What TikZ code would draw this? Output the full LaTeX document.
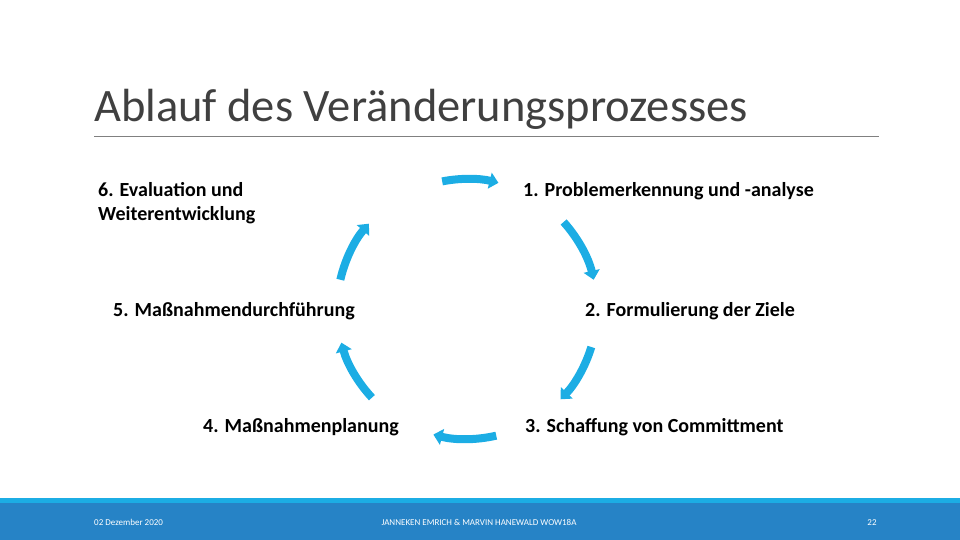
\documentclass[tikz,border=0pt]{standalone}
\usepackage{fontspec}
\setmainfont{Carlito}
\usetikzlibrary{arrows.meta}
\definecolor{cyclecol}{HTML}{1CADE4}
\definecolor{footcol}{HTML}{2683C6}
\definecolor{titlecol}{HTML}{404040}
\begin{document}
\begin{tikzpicture}[x=1pt,y=1pt,
    phase/.style={font=\fontsize{20}{24}\selectfont\bfseries, inner sep=0pt, align=left},
    foot/.style={font=\fontsize{9}{10}\selectfont, text=white, inner sep=0pt},
    cyclearrow/.style={cyclecol, line width=8pt, -{Triangle[width=16pt,length=9pt]}}]
            \def\R{130}
            \useasboundingbox (0,0) rectangle (960,540);
            
            \node[anchor=base west, inner sep=0pt, text=titlecol, font=\fontsize{46.5}{50}\selectfont] (title) at (94,418) {Ablauf des Veränderungsprozesses};
            \draw[gray, line width=0.8pt] (94,404) -- (879,404);
            
            \node[phase, anchor=base west] (p1) at (523,343) {1. Problemerkennung und -analyse};
            \node[phase, anchor=base west] (p2) at (585,223) {2. Formulierung der Ziele};
            \node[phase, anchor=base west] (p3) at (525,107) {3. Schaffung von Committment};
            \node[phase, anchor=base west] (p4) at (203,107) {4. Maßnahmenplanung};
            \node[phase, anchor=base west] (p5) at (113,223) {5. Maßnahmendurchführung};
            \node[phase, anchor=base west] (p6) at (98,319) {6. Evaluation und\\Weiterentwicklung};
            
            \coordinate (c) at (467,231);
            \foreach \a/\b in {101/76, 42/13, -17/-44, -77/-105, -137/-165, 167/139}
                \draw[cyclearrow] (c) ++(\a:\R) arc[start angle=\a, end angle=\b, radius=\R];
            
            \fill[footcol] (0,0) rectangle (960,37);
            \fill[cyclecol] (0,37) rectangle (960,42);
            \node[foot, anchor=base west] (date) at (94,14) {02 Dezember 2020};
            \node[foot, anchor=base] (names) at (479,14) {JANNEKEN EMRICH \& MARVIN HANEWALD WOW18A};
            \node[foot, anchor=base] (page) at (872,14) {22};
            
        \end{tikzpicture}
\end{document}
